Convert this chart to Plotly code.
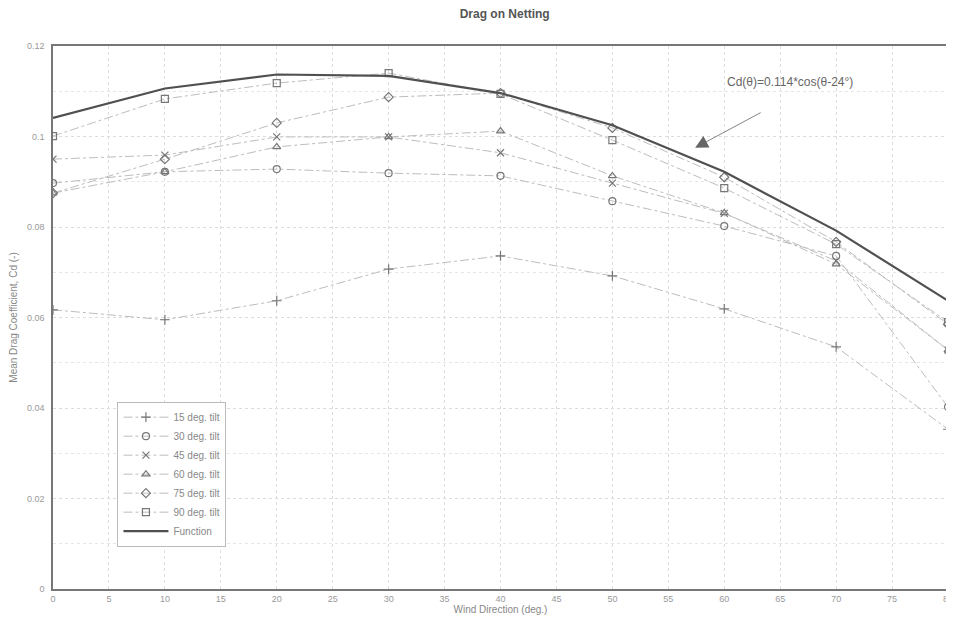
import plotly.graph_objects as go

wind_dir = [0, 10, 20, 30, 40, 50, 60, 70, 80]

tilt_15 = [0.0617, 0.0595, 0.0637, 0.0707, 0.0736, 0.0692, 0.0619, 0.0535, 0.0353]
tilt_30 = [0.0897, 0.0922, 0.0928, 0.0919, 0.0913, 0.0857, 0.0802, 0.0736, 0.0402]
tilt_45 = [0.0950, 0.0959, 0.0999, 0.0999, 0.0964, 0.0897, 0.0830, 0.0725, 0.0528]
tilt_60 = [0.0875, 0.0922, 0.0977, 0.0999, 0.1012, 0.0913, 0.0831, 0.0718, 0.0528]
tilt_75 = [0.0875, 0.0950, 0.1030, 0.1087, 0.1096, 0.1019, 0.0910, 0.0767, 0.0585]
tilt_90 = [0.1001, 0.1083, 0.1118, 0.1140, 0.1094, 0.0992, 0.0886, 0.0762, 0.0590]
function_vals = [0.1041, 0.1106, 0.1137, 0.1134, 0.1096, 0.1025, 0.0922, 0.0792, 0.0637]

series_names = ["15 deg. tilt", "30 deg. tilt", "45 deg. tilt", "60 deg. tilt",
                "75 deg. tilt", "90 deg. tilt"]
series_vals = [tilt_15, tilt_30, tilt_45, tilt_60, tilt_75, tilt_90]
series_symbols = ["cross-thin-open", "circle-open", "x-thin-open", "triangle-up-open",
                  "diamond-open", "square-open"]

x_ticks = list(range(0, 81, 5))
y_tickvals = [0, 0.02, 0.04, 0.06, 0.08, 0.1, 0.12]
y_ticktext = ["0", "0.02", "0.04", "0.06", "0.08", "0.1", "0.12"]

fig = go.Figure()
for name, vals, sym in zip(series_names, series_vals, series_symbols):
    fig.add_trace(go.Scatter(
        x=wind_dir, y=vals, name=name, mode="lines+markers",
        line=dict(color="#bdbdbd", width=1, dash="dashdot"),
        marker=dict(symbol=sym, size=7, color="#777777",
                    line=dict(color="#777777", width=1.2)),
    ))
fig.add_trace(go.Scatter(
    x=wind_dir, y=function_vals, name="Function", mode="lines",
    line=dict(color="#505050", width=2.2),
))

fig.add_annotation(
    x=57.4, y=0.0975, xref="x", yref="y",
    ax=67, ay=-36, showarrow=True, arrowhead=2, arrowsize=3.2, arrowwidth=0.8,
    arrowcolor="#666666", text="", standoff=0,
)
fig.add_annotation(
    x=0.823, y=0.933, xref="paper", yref="paper", xanchor="center", yanchor="middle",
    text="Cd(θ)=0.114*cos(θ-24°)", showarrow=False,
    font=dict(family="Liberation Sans, Arial", size=12, color="#666666"),
)

# page body has an 8px margin; figure is sized/placed to compensate
fig.update_layout(
    width=946, height=618,
    paper_bgcolor="white", plot_bgcolor="white",
    margin=dict(l=45, r=6, t=38, b=37, autoexpand=False),
    title=dict(text="<b>Drag on Netting</b>", x=0.525, xanchor="center", y=0.997,
               yanchor="top",
               font=dict(family="Liberation Sans, Arial", size=12, color="#555555")),
    font=dict(family="Liberation Sans, Arial", color="#888888"),
    legend=dict(x=0.072, y=0.345, xanchor="left", yanchor="top",
                bgcolor="white", bordercolor="#bbbbbb", borderwidth=1,
                font=dict(size=10, color="#888888"), tracegroupgap=0,
                itemwidth=45),
    showlegend=True,
)
fig.update_xaxes(
    range=[0, 80], tickvals=x_ticks, showgrid=True, automargin=False,
    gridcolor="#dddddd", griddash="dot", gridwidth=1,
    showline=True, linecolor="#777777", linewidth=1.5, mirror=True,
    zeroline=False, ticks="", ticklabelstandoff=0, tickfont=dict(size=9, color="#999999"),
    title=dict(text="Wind Direction (deg.)", standoff=0,
               font=dict(size=10, color="#888888")),
)
fig.update_yaxes(
    range=[0, 0.12], tickvals=y_tickvals, ticktext=y_ticktext, showgrid=True,
    automargin=False,
    gridcolor="#dddddd", griddash="dot", gridwidth=1,
    showline=True, linecolor="#777777", linewidth=1.5, mirror=True,
    zeroline=False, ticks="", ticklabelstandoff=5, tickfont=dict(size=9, color="#999999"),
    title=dict(text="Mean Drag Coefficient, Cd (-)", standoff=10,
               font=dict(size=10, color="#888888")),
    minor=dict(dtick=0.01, showgrid=True, gridcolor="#e6e6e6", griddash="dot"),
)

fig.write_html("out.html")
